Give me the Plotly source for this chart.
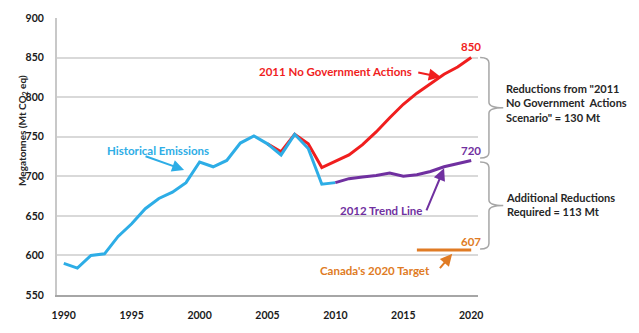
import plotly.graph_objects as go

# ---- data ----
hist_years = list(range(1990, 2011))
hist_values = [590, 584, 600, 602, 624, 640, 659, 672, 680, 692, 718, 712, 720, 742, 751,
               741, 727, 753, 735, 690, 692]

nogov_years = list(range(2005, 2021))
nogov_values = [741, 731, 753, 741, 711, 719, 727, 740, 756, 774, 791, 805, 817, 829, 838, 850]

trend_years = list(range(2010, 2021))
trend_values = [692, 697, 699, 701, 704, 700, 702, 706, 712, 716, 720]

target_years = list(range(2016, 2021))
target_values = [607, 607, 607, 607, 607]

x_ticks = [1990, 1995, 2000, 2005, 2010, 2015, 2020]
y_ticks = [550, 600, 650, 700, 750, 800, 850, 900]

BLUE = "#2DADE6"
RED = "#F01E1E"
PURPLE = "#7030A0"
ORANGE = "#E07B24"
GRAY = "#A6A6A6"
FONT = "Lato"

fig = go.Figure()
fig.add_trace(go.Scatter(x=nogov_years, y=nogov_values, mode="lines",
                         line=dict(color=RED, width=3), name="2011 No Government Actions"))
fig.add_trace(go.Scatter(x=hist_years, y=hist_values, mode="lines",
                         line=dict(color=BLUE, width=3), name="Historical Emissions"))
fig.add_trace(go.Scatter(x=trend_years, y=trend_values, mode="lines",
                         line=dict(color=PURPLE, width=3), name="2012 Trend Line"))
fig.add_trace(go.Scatter(x=target_years, y=target_values, mode="lines",
                         line=dict(color=ORANGE, width=3), name="Canada's 2020 Target"))

ann = []
def label(text, x, y, color, size=11.5, xanchor="center", **kw):
    ann.append(dict(text=text, x=x, y=y, xref="x", yref="y", showarrow=False,
                    xanchor=xanchor, font=dict(family=FONT, size=size, color=color, weight="bold"), **kw))

def arrow(x, y, ax, ay, color):
    ann.append(dict(text="", x=x, y=y, ax=ax, ay=ay, xref="x", yref="y", axref="x", ayref="y",
                    showarrow=True, arrowhead=2, arrowsize=1.2, arrowwidth=2, arrowcolor=color))

label("Historical Emissions", 1996.96, 733, BLUE)
arrow(1998.86, 708, 1995.91, 726, BLUE)
label("2011 No Government Actions", 2015.77, 832.5, RED, xanchor="right")
arrow(2017.76, 825.4, 2015.99, 831.6, RED)
label("2012 Trend Line", 2013.34, 657, PURPLE)
arrow(2018.0, 710, 2016.66, 655, PURPLE)
label("Canada's 2020 Target", 2012.9, 581, ORANGE)
arrow(2018.6, 602, 2017.6, 582, ORANGE)

label(str(nogov_values[-1]), nogov_years[-1], nogov_values[-1], RED, yshift=11)
label(str(trend_values[-1]), trend_years[-1], trend_values[-1], PURPLE, yshift=10)
label(str(target_values[-1]), target_years[-1], target_values[-1], ORANGE, yshift=8)

# side notes
note_font = dict(family=FONT, size=11, color="#262626", weight="bold")
ann.append(dict(text='Reductions from "2011<br>No Government  Actions<br>Scenario" = 130 Mt',
                x=1.062, y=(nogov_values[-1] + trend_values[-1]) / 2 + 8, xref="paper", yref="y",
                showarrow=False, xanchor="left", align="left", font=note_font))
ann.append(dict(text='Additional Reductions<br>Required = 113 Mt',
                x=1.062, y=(trend_values[-1] + target_values[-1]) / 2 + 1, xref="paper", yref="y",
                showarrow=False, xanchor="left", align="left", font=note_font))

# y-axis title
ann.append(dict(text="Megatonnes (Mt CO<sub>2</sub> eq)", x=-0.102, y=758, xref="paper", yref="y",
                showarrow=False, textangle=-90,
                font=dict(family=FONT, size=10, color="#262626", weight="bold")))

def brace(ytop, ybot):
    x0, x1, x2 = 1.005, 1.026, 1.06
    ym = (ytop + ybot) / 2
    d = 7
    return (f"M {x0},{ytop} Q {x1},{ytop} {x1},{ytop - d} L {x1},{ym + d} "
            f"Q {x1},{ym} {x2},{ym} Q {x1},{ym} {x1},{ym - d} L {x1},{ybot + d} "
            f"Q {x1},{ybot} {x0},{ybot}")

shapes = [
    dict(type="path", xref="paper", yref="y", path=brace(nogov_values[-1], trend_values[-1] + 3),
         line=dict(color=GRAY, width=1.5)),
    dict(type="path", xref="paper", yref="y", path=brace(trend_values[-1] - 2, target_values[-1] + 1),
         line=dict(color=GRAY, width=1.5)),
]

fig.update_layout(
    width=639, height=333, autosize=False,
    margin=dict(l=57, r=161, t=15, b=33),
    plot_bgcolor="white", paper_bgcolor="white",
    showlegend=False,
    annotations=ann, shapes=shapes,
    xaxis=dict(range=[1989.5, 2020.5], tickvals=x_ticks, showgrid=False, zeroline=False,
               showline=True, linecolor=GRAY, linewidth=2, ticks="",
               ticklabelstandoff=9,
               tickfont=dict(family=FONT, size=10.5, color="#1a1a1a", weight="bold")),
    yaxis=dict(range=[550, 900], tickvals=y_ticks, showgrid=True, gridcolor="#D9D9D9", gridwidth=1.5,
               zeroline=False, showline=True, linecolor="#C8C8C8", linewidth=2, ticks="",
               ticklabelstandoff=9,
               tickfont=dict(family=FONT, size=10.5, color="#1a1a1a", weight="bold")),
)

fig.write_html("out.html")
